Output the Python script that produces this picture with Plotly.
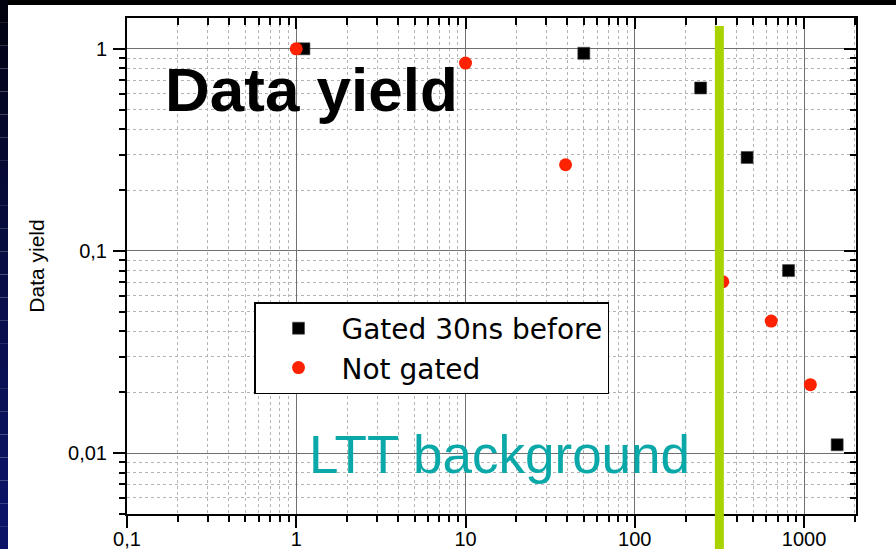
import numpy as np
import plotly.graph_objects as go

# ---- data -------------------------------------------------------------
gated_x = [1.11, 50, 245, 461, 810, 1570]
gated_y = [1.0, 0.95, 0.64, 0.29, 0.080, 0.011]

notgated_x = [1.0, 10, 39, 331, 640, 1090]
notgated_y = [1.0, 0.85, 0.267, 0.0705, 0.045, 0.0218]

ltt_threshold = 316  # LTT background limit

x_tickvals = [0.1, 1, 10, 100, 1000]
x_ticktext = ["0,1", "1", "10", "100", "1000"]
y_tickvals = [0.01, 0.1, 1]
y_ticktext = ["0,01", "0,1", "1"]

x_range = [0.1, 2028]
y_range = [0.005, 1.42]

# ---- page geometry (pixels) --------------------------------------------
W, H = 896, 549
L, R, T, B = 127, 40, 18, 35
PW, PH = W - L - R, H - T - B


def px_x(p):
    return (p - L) / PW


def px_y(p):
    return (H - B - p) / PH


FONT = "Liberation Sans, Arial, sans-serif"

minor_x = [m * 10.0 ** e for e in range(-1, 4) for m in range(2, 10)]
minor_y = [m * 10.0 ** e for e in range(-3, 1) for m in range(2, 10)]

fig = go.Figure()

fig.add_trace(go.Scatter(
    x=gated_x, y=gated_y, mode="markers", name="Gated 30ns before",
    marker=dict(symbol="square", size=12, color="black",
                line=dict(width=0.6, color="#444")),
))
fig.add_trace(go.Scatter(
    x=notgated_x, y=notgated_y, mode="markers", name="Not gated",
    marker=dict(symbol="circle", size=13, color="#ff2200",
                line=dict(width=0)),
))
# empty trace that carries the mirrored top/right axes
fig.add_trace(go.Scatter(x=[], y=[], xaxis="x2", yaxis="y2",
                         showlegend=False, hoverinfo="skip"))

common_axis = dict(
    type="log", showline=True, linecolor="black", linewidth=2,
    tickcolor="black", tickwidth=2,
    tickfont=dict(family=FONT, size=20, color="black"),
)

fig.update_layout(
    width=W, height=H,
    margin=dict(l=L, r=R, t=T, b=B, autoexpand=False),
    paper_bgcolor="white", plot_bgcolor="white",
    font=dict(family=FONT, color="black"),
    xaxis=dict(
        **common_axis,
        range=[np.log10(x_range[0]), np.log10(x_range[1])],
        tickmode="array", tickvals=x_tickvals, ticktext=x_ticktext,
        ticks="outside", ticklen=12, ticklabelstandoff=-6,
        showgrid=True, gridcolor="#707070", gridwidth=1,
        minor=dict(tickmode="array", tickvals=minor_x, ticks="outside",
                   ticklen=6, tickwidth=1.5, tickcolor="black",
                   showgrid=True, gridcolor="#b4b4b4", griddash="dot",
                   gridwidth=1),
        zeroline=False,
    ),
    yaxis=dict(
        **common_axis,
        range=[np.log10(y_range[0]), np.log10(y_range[1])],
        tickmode="array", tickvals=y_tickvals, ticktext=y_ticktext,
        ticks="outside", ticklen=12, ticklabelstandoff=2,
        showgrid=True, gridcolor="#707070", gridwidth=1,
        minor=dict(tickmode="array", tickvals=minor_y, ticks="outside",
                   ticklen=6, tickwidth=1.5, tickcolor="black",
                   showgrid=True, gridcolor="#b4b4b4", griddash="dot",
                   gridwidth=1),
        title=dict(text="Data yield", font=dict(family=FONT, size=21),
                   standoff=18),
        zeroline=False,
    ),
    xaxis2=dict(
        **common_axis,
        overlaying="x", matches="x", side="top", anchor="y2",
        tickmode="array", tickvals=x_tickvals, ticks="inside", ticklen=11,
        showticklabels=False, showgrid=False,
        minor=dict(tickmode="array", tickvals=minor_x, ticks="inside",
                   ticklen=7, tickwidth=1.5, tickcolor="black",
                   showgrid=False),
    ),
    yaxis2=dict(
        **common_axis,
        overlaying="y", matches="y", side="right", anchor="x2",
        tickmode="array", tickvals=y_tickvals, ticks="inside", ticklen=12,
        showticklabels=False, showgrid=False,
        minor=dict(tickmode="array", tickvals=minor_y, ticks="inside",
                   ticklen=6, tickwidth=1.5, tickcolor="black",
                   showgrid=False),
    ),
    legend=dict(
        x=px_x(254), y=px_y(302), xanchor="left", yanchor="top",
        bgcolor="white", bordercolor="black", borderwidth=1.5,
        font=dict(family="DejaVu Sans, sans-serif", size=28, color="black"),
        indentation=0, itemwidth=76, tracegroupgap=0,
        entrywidth=290, entrywidthmode="pixels",
    ),
    showlegend=True,
)

# slide backdrop: dark band across the top and a dark-blue strip on the left
shapes = [dict(type="rect", xref="paper", yref="paper",
               x0=px_x(0), x1=px_x(W), y0=px_y(5), y1=px_y(0),
               fillcolor="black", line=dict(width=0), layer="below")]
n_seg = 24
for i in range(n_seg):
    t = (i + 0.5) / n_seg
    k = min(1.0, t ** 0.7 * 1.05)
    col = "rgb({},{},{})".format(int(2 + 10 * k), int(2 + 18 * k), int(8 + 95 * k))
    shapes.append(dict(type="rect", xref="paper", yref="paper",
                       x0=px_x(0), x1=px_x(8),
                       y0=px_y(H * (i + 1) / n_seg), y1=px_y(H * i / n_seg),
                       fillcolor=col, line=dict(width=0), layer="below"))

# LTT threshold line, running past the bottom of the frame
shapes.append(dict(type="line", xref="x", yref="paper",
                   x0=ltt_threshold, x1=ltt_threshold,
                   y0=px_y(H + 2), y1=px_y(26),
                   line=dict(color="#a8d200", width=9), layer="above"))
fig.update_layout(shapes=shapes)

fig.add_annotation(text="<b>Data yield</b>", xref="paper", yref="paper",
                   x=px_x(311), y=px_y(90), xanchor="center", yanchor="middle",
                   showarrow=False,
                   font=dict(family=FONT, size=62, color="black"))
fig.add_annotation(text="LTT background", xref="paper", yref="paper",
                   x=px_x(499), y=px_y(454), xanchor="center", yanchor="middle",
                   showarrow=False,
                   font=dict(family=FONT, size=53, color="#0aa8a8"))

fig.write_html("out.html")
